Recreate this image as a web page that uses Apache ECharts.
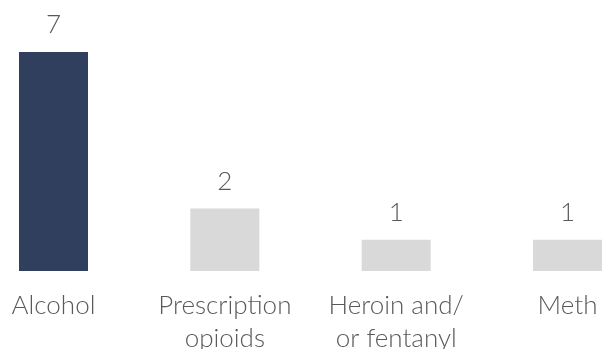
<!DOCTYPE html>
<html>
<head>
<meta charset="utf-8">
<script src="https://cdn.jsdelivr.net/npm/echarts@6/dist/echarts.min.js"></script>
<style>
  html, body { margin: 0; padding: 0; background: #fff; }
  #chart { width: 602px; height: 349px; }
</style>
</head>
<body>
<div id="chart"></div>
<script>
// Data
const categories = ['Alcohol', 'Prescription\nopioids', 'Heroin and/\nor fentanyl', 'Meth'];
const counts = [7, 2, 1, 1];
const barColors = ['#2f3f5d', '#d9d9d9', '#d9d9d9', '#d9d9d9'];

const chart = echarts.init(document.getElementById('chart'));
const textColor = '#595959';
const fontFamily = "'Lato Light', Lato, sans-serif";

chart.setOption({
    animation: false,
    grid: { left: 53.5, right: 34.5, top: 52, bottom: 78, outerBoundsMode: 'none' },
    xAxis: {
        type: 'category',
        data: categories,
        boundaryGap: false,
        axisLine: { show: false },
        axisTick: { show: false },
        axisLabel: {
            color: textColor,
            fontFamily: fontFamily,
            fontWeight: 300,
            fontSize: 26,
            lineHeight: 33,
            margin: 18,
            interval: 0
        }
    },
    yAxis: {
        type: 'value',
        min: 0,
        max: 7,
        show: false
    },
    series: [{
        type: 'bar',
        barWidth: 69,
        data: counts.map((v, i) => ({ value: v, itemStyle: { color: barColors[i] } })),
        label: {
            show: true,
            position: 'top',
            distance: 14,
            color: textColor,
            fontFamily: fontFamily,
            fontWeight: 300,
            fontSize: 26
        }
    }]
});
</script>
</body>
</html>
